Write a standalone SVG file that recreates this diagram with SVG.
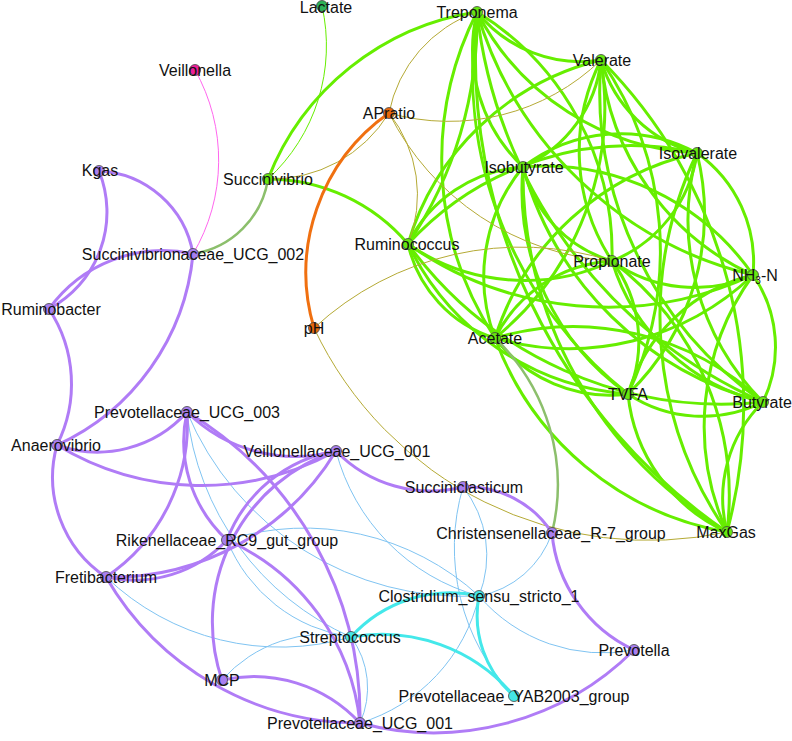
<svg xmlns="http://www.w3.org/2000/svg" width="792" height="741" viewBox="0 0 792 741">
<style>
path{fill:none}
.g{stroke:#66ee00;stroke-width:3}
.gt{stroke:#66ee00;stroke-width:1}
.x{stroke:#8cbf6c;stroke-width:2.5}
.p{stroke:#b07cf6;stroke-width:3}
.c{stroke:#44e8ea;stroke-width:3}
.b{stroke:#80c4f2;stroke-width:1}
.o{stroke:#b5aa35;stroke-width:1}
.or{stroke:#f07010;stroke-width:3}
.m{stroke:#ff66ee;stroke-width:1}
circle{stroke:#444;stroke-width:0.8}
.ng{fill:#66e810}.nd{fill:#2db35a}.np{fill:#a87ff0}.nc{fill:#44e6e6}.no{fill:#e8680c}.nm{fill:#ee1f99}
text{font-family:"Liberation Sans",Arial,sans-serif;font-size:16px;fill:#111;text-anchor:middle}
</style>
<rect width="792" height="741" fill="#fff"/>
<g id="edges">
<path class="g" d="M477 12 A267 267 0 0 0 268 179"/>
<path class="g" d="M477 12 A133 133 0 0 0 601 60"/>
<path class="g" d="M477 12 A261 261 0 0 0 697 153"/>
<path class="g" d="M477 12 A400 400 0 0 1 408 244"/>
<path class="g" d="M477 12 A162 162 0 0 0 523 167"/>
<path class="g" d="M477 12 A326 326 0 0 0 495 338"/>
<path class="g" d="M477 12 A283 283 0 0 1 612 261"/>
<path class="g" d="M477 12 A411 411 0 0 0 628 394"/>
<path class="g" d="M477 12 A381 381 0 0 0 753 275"/>
<path class="g" d="M477 12 A484 484 0 0 0 763 402"/>
<path class="g" d="M477 12 A577 577 0 0 0 727 532"/>
<path class="g" d="M601 60 A132 132 0 0 1 523 167"/>
<path class="g" d="M601 60 A267 267 0 0 0 408 244"/>
<path class="g" d="M601 60 A298 298 0 0 1 495 338"/>
<path class="g" d="M601 60 A201 201 0 0 0 612 261"/>
<path class="g" d="M601 60 A335 335 0 0 1 628 394"/>
<path class="g" d="M601 60 A263 263 0 0 0 753 275"/>
<path class="g" d="M601 60 A378 378 0 0 0 763 402"/>
<path class="g" d="M601 60 A489 489 0 0 1 727 532"/>
<path class="g" d="M601 60 A134 134 0 0 0 697 153"/>
<path class="g" d="M523 167 A160 160 0 0 1 697 153"/>
<path class="g" d="M523 167 A138 138 0 0 0 408 244"/>
<path class="g" d="M523 167 A173 173 0 0 0 495 338"/>
<path class="g" d="M523 167 A129 129 0 0 0 612 261"/>
<path class="g" d="M523 167 A250 250 0 0 0 628 394"/>
<path class="g" d="M523 167 A254 254 0 0 1 753 275"/>
<path class="g" d="M523 167 A336 336 0 0 0 763 402"/>
<path class="g" d="M523 167 A418 418 0 0 0 727 532"/>
<path class="g" d="M697 153 A303 303 0 0 0 408 244"/>
<path class="g" d="M697 153 A274 274 0 0 0 495 338"/>
<path class="g" d="M697 153 A137 137 0 0 1 612 261"/>
<path class="g" d="M697 153 A251 251 0 0 1 628 394"/>
<path class="g" d="M697 153 A134 134 0 0 1 753 275"/>
<path class="g" d="M697 153 A258 258 0 0 0 763 402"/>
<path class="g" d="M697 153 A380 380 0 0 0 727 532"/>
<path class="g" d="M268 179 A185 185 0 0 1 408 244"/>
<path class="g" d="M408 244 A128 128 0 0 0 495 338"/>
<path class="g" d="M408 244 A205 205 0 0 0 612 261"/>
<path class="g" d="M408 244 A346 346 0 0 0 753 275"/>
<path class="g" d="M408 244 A266 266 0 0 0 628 394"/>
<path class="g" d="M408 244 A389 389 0 0 0 763 402"/>
<path class="g" d="M612 261 A140 140 0 0 0 495 338"/>
<path class="g" d="M612 261 A134 134 0 0 1 628 394"/>
<path class="g" d="M612 261 A142 142 0 0 0 753 275"/>
<path class="g" d="M612 261 A207 207 0 0 0 763 402"/>
<path class="g" d="M612 261 A294 294 0 0 1 727 532"/>
<path class="g" d="M753 275 A266 266 0 0 1 495 338"/>
<path class="g" d="M753 275 A173 173 0 0 0 628 394"/>
<path class="g" d="M753 275 A127 127 0 0 1 763 402"/>
<path class="g" d="M753 275 A258 258 0 0 0 727 532"/>
<path class="g" d="M495 338 A144 144 0 0 0 628 394"/>
<path class="g" d="M495 338 A276 276 0 0 1 763 402"/>
<path class="g" d="M495 338 A302 302 0 0 0 727 532"/>
<path class="g" d="M628 394 A135 135 0 0 0 763 402"/>
<path class="g" d="M628 394 A170 170 0 0 0 727 532"/>
<path class="g" d="M763 402 A135 135 0 0 0 727 532"/>
<path class="gt" d="M322 6 A181 181 0 0 1 268 179"/>
<path class="x" d="M495 338 A203 203 0 0 1 552 533"/>
<path class="x" d="M268 179 A90 90 0 0 1 193 254"/>
<path class="m" d="M195 70 A184 184 0 0 1 193 254"/>
<path class="o" d="M389 113 A134 134 0 0 1 477 12"/>
<path class="o" d="M389 113 A138 138 0 0 1 268 179"/>
<path class="o" d="M389 113 A219 219 0 0 0 601 60"/>
<path class="o" d="M389 113 A132 132 0 0 1 408 244"/>
<path class="o" d="M389 113 A268 268 0 0 0 612 261"/>
<path class="o" d="M314 328 A305 305 0 0 1 612 261"/>
<path class="o" d="M314 328 A370 370 0 0 0 727 532"/>
<path class="or" d="M389 113 A195 195 0 0 0 314 328"/>
<path class="b" d="M187 412 A278 278 0 0 0 351 637"/>
<path class="b" d="M187 412 A300 300 0 0 0 479 596"/>
<path class="b" d="M227 540 A258 258 0 0 1 479 596"/>
<path class="b" d="M336 451 A204 204 0 0 0 479 596"/>
<path class="b" d="M227 540 A157 157 0 0 0 351 637"/>
<path class="b" d="M106 577 A252 252 0 0 0 351 637"/>
<path class="b" d="M463 487 A215 215 0 0 0 514 696"/>
<path class="b" d="M463 487 A110 110 0 0 1 479 596"/>
<path class="b" d="M552 533 A96 96 0 0 1 479 596"/>
<path class="b" d="M479 596 A164 164 0 0 0 634 650"/>
<path class="b" d="M479 596 A174 174 0 0 1 360 723"/>
<path class="b" d="M351 637 A86 86 0 0 1 360 723"/>
<path class="b" d="M222 680 A136 136 0 0 1 351 637"/>
<path class="p" d="M99 171 A100 100 0 0 1 193 254"/>
<path class="p" d="M99 171 A110 110 0 0 1 49 309"/>
<path class="p" d="M193 254 A140 140 0 0 0 49 309"/>
<path class="p" d="M193 254 A234 234 0 0 1 57 445"/>
<path class="p" d="M49 309 A136 136 0 0 1 57 445"/>
<path class="p" d="M57 445 A120 120 0 0 0 187 412"/>
<path class="p" d="M57 445 A279 279 0 0 0 336 451"/>
<path class="p" d="M57 445 A120 120 0 0 0 106 577"/>
<path class="p" d="M106 577 A184 184 0 0 0 187 412"/>
<path class="p" d="M106 577 A127 127 0 0 0 227 540"/>
<path class="p" d="M106 577 A262 262 0 0 0 336 451"/>
<path class="p" d="M106 577 A293 293 0 0 0 360 723"/>
<path class="p" d="M187 412 A154 154 0 0 0 336 451"/>
<path class="p" d="M187 412 A134 134 0 0 0 227 540"/>
<path class="p" d="M187 412 A356 356 0 0 1 360 723"/>
<path class="p" d="M336 451 A141 141 0 0 0 227 540"/>
<path class="p" d="M336 451 A180 180 0 0 0 222 680"/>
<path class="p" d="M227 540 A226 226 0 0 1 360 723"/>
<path class="p" d="M222 680 A145 145 0 0 1 360 723"/>
<path class="p" d="M336 451 A132 132 0 0 0 463 487"/>
<path class="p" d="M463 487 A100 100 0 0 1 552 533"/>
<path class="p" d="M552 533 A143 143 0 0 0 634 650"/>
<path class="p" d="M634 650 A284 284 0 0 1 360 723"/>
<path class="c" d="M479 596 A134 134 0 0 0 351 637"/>
<path class="c" d="M351 637 A173 173 0 0 1 514 696"/>
<path class="c" d="M479 596 A106 106 0 0 0 514 696"/>
</g>
<g id="n-lactate"><circle class="nd" cx="322" cy="6" r="5.5"/><text x="326" y="13">Lactate</text></g>
<g id="n-treponema"><circle class="ng" cx="477" cy="12" r="5.5"/><text x="477" y="18">Treponema</text></g>
<g id="n-veillonella"><circle class="nm" cx="195" cy="70" r="5.5"/><text x="195" y="76">Veillonella</text></g>
<g id="n-valerate"><circle class="ng" cx="601" cy="60" r="5.5"/><text x="602" y="66">Valerate</text></g>
<g id="n-apratio"><circle class="no" cx="389" cy="113" r="5.5"/><text x="389" y="119">APratio</text></g>
<g id="n-kgas"><circle class="np" cx="99" cy="171" r="5.5"/><text x="100" y="176">Kgas</text></g>
<g id="n-succinivibrio"><circle class="ng" cx="268" cy="179" r="5.5"/><text x="268" y="185">Succinivibrio</text></g>
<g id="n-isobutyrate"><circle class="ng" cx="523" cy="167" r="5.5"/><text x="524" y="173">Isobutyrate</text></g>
<g id="n-isovalerate"><circle class="ng" cx="697" cy="153" r="5.5"/><text x="698" y="159">Isovalerate</text></g>
<g id="n-ucg002"><circle class="np" cx="193" cy="254" r="5.5"/><text x="193" y="260">Succinivibrionaceae_UCG_002</text></g>
<g id="n-ruminococcus"><circle class="ng" cx="408" cy="244" r="5.5"/><text x="407" y="250">Ruminococcus</text></g>
<g id="n-propionate"><circle class="ng" cx="612" cy="261" r="5.5"/><text x="612" y="267">Propionate</text></g>
<g id="n-nh3n"><circle class="ng" cx="753" cy="275" r="5.5"/><text x="755" y="281">NH<tspan font-size="10" dy="3">3</tspan><tspan dy="-3">-N</tspan></text></g>
<g id="n-ruminobacter"><circle class="np" cx="49" cy="309" r="5.5"/><text x="51" y="315">Ruminobacter</text></g>
<g id="n-ph"><circle class="no" cx="314" cy="328" r="5.5"/><text x="314" y="334">pH</text></g>
<g id="n-acetate"><circle class="ng" cx="495" cy="338" r="5.5"/><text x="495" y="344">Acetate</text></g>
<g id="n-tvfa"><circle class="ng" cx="628" cy="394" r="5.5"/><text x="628" y="400">TVFA</text></g>
<g id="n-butyrate"><circle class="ng" cx="763" cy="402" r="5.5"/><text x="762" y="408">Butyrate</text></g>
<g id="n-ucg003"><circle class="np" cx="187" cy="412" r="5.5"/><text x="187" y="418">Prevotellaceae_UCG_003</text></g>
<g id="n-anaerovibrio"><circle class="np" cx="57" cy="445" r="5.5"/><text x="56" y="451">Anaerovibrio</text></g>
<g id="n-vucg001"><circle class="np" cx="336" cy="451" r="5.5"/><text x="337" y="457">Veillonellaceae_UCG_001</text></g>
<g id="n-succiniclasticum"><circle class="np" cx="463" cy="487" r="5.5"/><text x="464" y="493">Succiniclasticum</text></g>
<g id="n-christensenellaceae"><circle class="np" cx="552" cy="533" r="5.5"/><text x="551" y="539">Christensenellaceae_R-7_group</text></g>
<g id="n-maxgas"><circle class="ng" cx="727" cy="532" r="5.5"/><text x="726" y="538">MaxGas</text></g>
<g id="n-rc9"><circle class="np" cx="227" cy="540" r="5.5"/><text x="227" y="546">Rikenellaceae_RC9_gut_group</text></g>
<g id="n-fretibacterium"><circle class="np" cx="106" cy="577" r="5.5"/><text x="106" y="583">Fretibacterium</text></g>
<g id="n-clostridium"><circle class="nc" cx="479" cy="596" r="5.5"/><text x="479" y="602">Clostridium_sensu_stricto_1</text></g>
<g id="n-streptococcus"><circle class="nc" cx="351" cy="637" r="5.5"/><text x="350" y="643">Streptococcus</text></g>
<g id="n-prevotella"><circle class="np" cx="634" cy="650" r="5.5"/><text x="634" y="656">Prevotella</text></g>
<g id="n-mcp"><circle class="np" cx="222" cy="680" r="5.5"/><text x="222" y="686">MCP</text></g>
<g id="n-yab2003"><circle class="nc" cx="514" cy="696" r="5.5"/><text x="514" y="702">Prevotellaceae_YAB2003_group</text></g>
<g id="n-ucg001"><circle class="np" cx="360" cy="723" r="5.5"/><text x="360" y="729">Prevotellaceae_UCG_001</text></g>
</svg>
